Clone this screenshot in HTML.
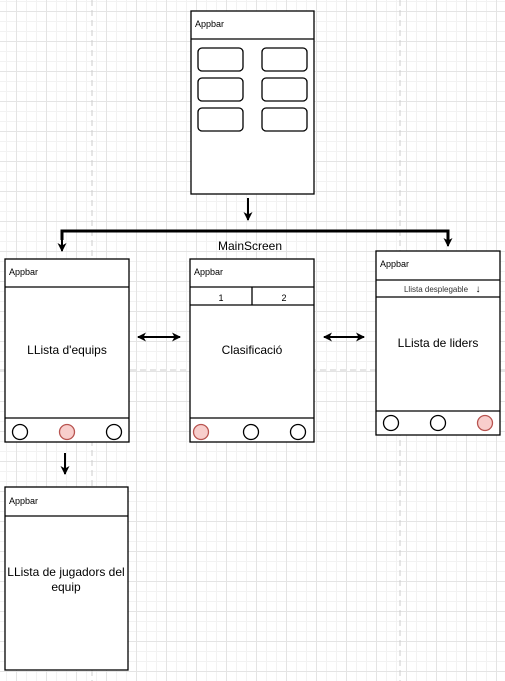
<!DOCTYPE html>
<html><head><meta charset="utf-8"><style>
body{margin:0;width:505px;height:681px;overflow:hidden;background:#fff;
background-image:
linear-gradient(#e4e4e4 1px,transparent 1px),linear-gradient(90deg,#e4e4e4 1px,transparent 1px),
linear-gradient(#f2f2f2 1px,transparent 1px),linear-gradient(90deg,#f2f2f2 1px,transparent 1px);
background-size:30px 30px,30px 30px,10px 10px,10px 10px;
background-position:0 11px,16px 0,0 1px,6px 0;}
svg{position:absolute;left:0;top:0}
text{font-family:"Liberation Sans",sans-serif}
</style></head><body>
<svg width="505" height="681" xmlns="http://www.w3.org/2000/svg">
<defs><marker id="a" markerWidth="10" markerHeight="10" refX="8" refY="4.5" orient="auto-start-reverse" markerUnits="userSpaceOnUse"><path d="M0,0 L9,4.5 L0,9 L2.5,4.5 Z" fill="#000"/></marker></defs>
<line x1="92" y1="0" x2="92" y2="681" stroke="#ccc" stroke-dasharray="6,4"/>
<line x1="400" y1="0" x2="400" y2="681" stroke="#ccc" stroke-dasharray="6,4"/>
<line x1="0" y1="370" x2="505" y2="370" stroke="#ccc" stroke-dasharray="6,4"/>
<g stroke="#000" fill="#fff" stroke-width="1.3">
<rect x="191" y="11" width="123" height="183"/>
<line x1="191" y1="39" x2="314" y2="39"/>
<rect x="198" y="48" width="45" height="23" rx="4"/><rect x="262" y="48" width="45" height="23" rx="4"/>
<rect x="198" y="78" width="45" height="23" rx="4"/><rect x="262" y="78" width="45" height="23" rx="4"/>
<rect x="198" y="108" width="45" height="23" rx="4"/><rect x="262" y="108" width="45" height="23" rx="4"/>
<rect x="5" y="259" width="124" height="183"/><line x1="5" y1="287" x2="129" y2="287"/><line x1="5" y1="418" x2="129" y2="418"/>
<rect x="190" y="259" width="124" height="183"/><line x1="190" y1="287" x2="314" y2="287"/><line x1="190" y1="305" x2="314" y2="305"/><line x1="252" y1="287" x2="252" y2="305"/><line x1="190" y1="418" x2="314" y2="418"/>
<rect x="376" y="251" width="124" height="184"/><line x1="376" y1="280" x2="500" y2="280"/><line x1="376" y1="297" x2="500" y2="297"/><line x1="376" y1="411" x2="500" y2="411"/>
<rect x="5" y="487" width="123" height="183"/><line x1="5" y1="516" x2="128" y2="516"/>
<circle cx="20" cy="432" r="7.5"/><circle cx="67" cy="432" r="7.5" fill="#f8cecc" stroke="#b85450"/><circle cx="114" cy="432" r="7.5"/>
<circle cx="201" cy="432" r="7.5" fill="#f8cecc" stroke="#b85450"/><circle cx="251" cy="432" r="7.5"/><circle cx="298" cy="432" r="7.5"/>
<circle cx="391" cy="423" r="7.5"/><circle cx="438" cy="423" r="7.5"/><circle cx="485" cy="423" r="7.5" fill="#f8cecc" stroke="#b85450"/>
</g>
<g stroke="#000" fill="none" stroke-width="2">
<line x1="248" y1="198" x2="248" y2="220" marker-end="url(#a)"/>
<polyline points="62,240 62,231 448,231 448,240" stroke-width="3"/>
<line x1="62" y1="238" x2="62" y2="251" marker-end="url(#a)"/>
<line x1="448" y1="238" x2="448" y2="246" marker-end="url(#a)"/>
<line x1="138" y1="337" x2="180" y2="337" marker-start="url(#a)" marker-end="url(#a)"/>
<line x1="324" y1="337" x2="364" y2="337" marker-start="url(#a)" marker-end="url(#a)"/>
<line x1="65" y1="453" x2="65" y2="474" marker-end="url(#a)"/>
</g>
<g font-size="9" fill="#000">
<text x="195" y="27">Appbar</text><text x="9" y="275">Appbar</text><text x="194" y="275">Appbar</text><text x="380" y="267">Appbar</text><text x="9" y="504">Appbar</text>
<text x="221" y="301" text-anchor="middle">1</text><text x="284" y="301" text-anchor="middle">2</text>
<text x="436" y="292" text-anchor="middle" font-size="8" fill="#333">Llista desplegable</text>
<text x="478" y="292" font-size="10" font-weight="bold" text-anchor="middle">↓</text>
</g>
<g font-size="12" fill="#000" text-anchor="middle">
<text x="250" y="250">MainScreen</text>
<text x="67" y="354">LLista d'equips</text>
<text x="252" y="354">Clasificació</text>
<text x="438" y="347">LLista de liders</text>
<text x="66" y="576">LLista de jugadors del</text>
<text x="66" y="591">equip</text>
</g>
</svg>
</body></html>
